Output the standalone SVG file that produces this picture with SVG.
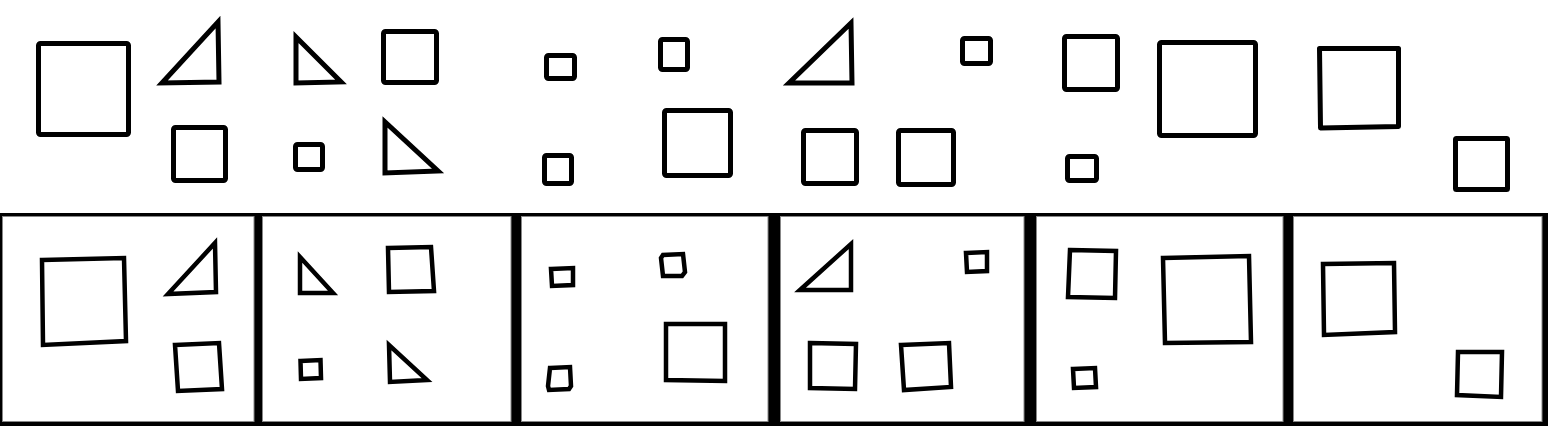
<svg xmlns="http://www.w3.org/2000/svg" width="1548" height="426" viewBox="0 0 1548 426">
<style>
.s{fill:none;stroke:#000;stroke-width:5;stroke-linejoin:round}
.t{fill:none;stroke:#000;stroke-width:5;stroke-linejoin:miter;stroke-miterlimit:10}
.b{fill:none;stroke:#000;stroke-width:4.5;stroke-linejoin:miter;stroke-miterlimit:10}
.p{fill:#fff;stroke:#888;stroke-width:1}
</style>
<rect width="1548" height="426" fill="#fff"/>
<g id="top-row">
<rect class="s" x="38.5" y="43.5" width="90" height="91" rx="2"/>
<polygon class="t" points="162,83 218,22 219,82"/>
<polygon class="t" points="296,37 296,83 341,82"/>
<rect class="s" x="383.5" y="31.5" width="53" height="51" rx="2"/>
<rect class="s" x="173.5" y="127.5" width="52" height="53" rx="2"/>
<rect class="s" x="295.5" y="144.5" width="27" height="25" rx="2"/>
<polygon class="t" points="385,122 385,173 438,171"/>
<rect class="s" x="546.5" y="55.5" width="28" height="23" rx="2"/>
<rect class="s" x="660.5" y="39.5" width="27" height="30" rx="2"/>
<polygon class="t" points="789,83 851,23 852,83"/>
<rect class="s" x="962.5" y="38.5" width="28" height="25" rx="2"/>
<rect class="s" x="544.5" y="155.5" width="27" height="28" rx="2"/>
<rect class="s" x="664.5" y="110.5" width="66" height="65" rx="2"/>
<rect class="s" x="803.5" y="130.5" width="53" height="53" rx="2"/>
<rect class="s" x="898.5" y="130.5" width="55" height="54" rx="2"/>
<rect class="s" x="1064.5" y="36.5" width="53" height="53" rx="2"/>
<rect class="s" x="1159.5" y="42.5" width="96" height="93" rx="2"/>
<polygon class="s" points="1319.5,48.5 1398.5,48.5 1398.5,126.5 1320.5,128"/>
<rect class="s" x="1067.5" y="156.5" width="29" height="24" rx="2"/>
<rect class="s" x="1455.5" y="138.5" width="52" height="51" rx="1"/>
</g>
<g id="panels">
<rect x="0" y="213" width="1548" height="213" fill="#000"/>
<rect class="p" x="2.5" y="216.5" width="251.5" height="205"/>
<rect class="p" x="262.5" y="216.5" width="248.5" height="205"/>
<rect class="p" x="521.5" y="216.5" width="246.5" height="205"/>
<rect class="p" x="780.5" y="216.5" width="243.5" height="205"/>
<rect class="p" x="1036.5" y="216.5" width="246.5" height="205"/>
<rect class="p" x="1293.5" y="216.5" width="248.5" height="205"/>
</g>
<g id="panel-1">
<polygon class="b" points="42,260 124,258 126,341 43,345"/>
<polygon class="b" points="168,294 215,243 216,292"/>
<polygon class="b" points="175,345 219,343 222,389 178,391"/>
</g>
<g id="panel-2">
<polygon class="b" points="300,257 300,293 333,293"/>
<polygon class="b" points="388,248 431,247 434,291 389,292"/>
<polygon class="b" points="300.5,361 320.5,360 321,378 301,379"/>
<polygon class="b" points="389,345 390,382 427,380"/>
</g>
<g id="panel-3">
<polygon class="b" points="551,269 573,268 573,285 552,286"/>
<polygon class="b" points="661,258 663,255 683,254 685,272 682,276 663,276"/>
<polygon class="b" points="666,324 725,324 725,381 666,380"/>
<polygon class="b" points="550,368 570,367 571,386 569,389 549,390 548,386"/>
</g>
<g id="panel-4">
<polygon class="b" points="800,290 851,244 851,290"/>
<polygon class="b" points="966,253 987,252 987,271 967,272"/>
<polygon class="b" points="810,343 856,344 855,389 810,388"/>
<polygon class="b" points="901,345 949,343 951,387 904,390"/>
</g>
<g id="panel-5">
<polygon class="b" points="1070,250 1116,251 1115,298 1068,297"/>
<polygon class="b" points="1163,258 1249,256 1251,342 1165,343"/>
<polygon class="b" points="1073,369 1095,368 1096,387 1074,388"/>
</g>
<g id="panel-6">
<polygon class="b" points="1323,264 1394,263 1395,332 1324,335"/>
<polygon class="b" points="1458,352 1502,352 1501,397 1457,395"/>
</g>
</svg>
